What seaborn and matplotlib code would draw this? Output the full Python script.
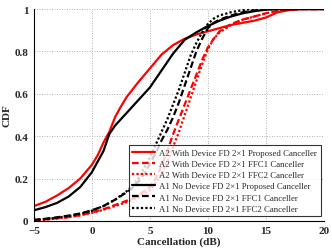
import matplotlib
matplotlib.use("Agg")
import matplotlib.pyplot as plt
import numpy as np
import pandas as pd
import seaborn as sns

# data (Cancellation in dB -> CDF)
x_a2_prop = [-5, -4, -3, -2, -1, 0, 0.5, 1, 1.5, 2, 2.5, 3, 3.5, 4, 5, 6, 7, 8, 9, 10, 11, 12, 13, 14, 15, 16, 17, 18, 20]
y_a2_prop = [0.07, 0.09, 0.12, 0.155, 0.2, 0.265, 0.31, 0.37, 0.42, 0.49, 0.54, 0.585, 0.62, 0.655, 0.72, 0.785, 0.83, 0.86,
             0.88, 0.895, 0.91, 0.925, 0.935, 0.945, 0.96, 0.985, 0.995, 1.0, 1.0]

x_a2_ffc1 = [-5, -4, -3, -2, -1, 0, 1, 2, 3, 3.5, 4, 5, 5.5, 6, 6.5, 7, 7.5, 8, 8.5, 9, 9.5, 10, 10.5, 11, 12, 13, 14, 15, 16, 17, 18, 20]
y_a2_ffc1 = [0.003, 0.007, 0.012, 0.018, 0.027, 0.04, 0.055, 0.075, 0.095, 0.105, 0.12, 0.16, 0.2, 0.26, 0.33, 0.41, 0.48,
             0.55, 0.62, 0.69, 0.76, 0.82, 0.86, 0.895, 0.93, 0.95, 0.965, 0.98, 0.99, 0.997, 1.0, 1.0]

x_a2_ffc2 = [-5, -4, -3, -2, -1, 0, 1, 2, 3, 4, 5, 5.5, 6, 6.5, 7, 7.5, 8, 8.5, 9, 9.5, 10, 10.5, 11, 12, 13, 14, 15, 16, 17, 18, 20]
y_a2_ffc2 = [0.003, 0.006, 0.011, 0.017, 0.026, 0.038, 0.052, 0.07, 0.088, 0.11, 0.145, 0.18, 0.22, 0.28, 0.35, 0.42, 0.5,
             0.58, 0.66, 0.74, 0.81, 0.86, 0.89, 0.925, 0.95, 0.965, 0.98, 0.99, 0.997, 1.0, 1.0]

x_a1_prop = [-5, -4, -3, -2, -1, 0, 0.5, 1, 1.5, 2, 2.5, 3, 3.5, 4, 5, 6, 7, 8, 9, 10, 11, 12, 13, 14, 15, 16, 20]
y_a1_prop = [0.05, 0.065, 0.085, 0.115, 0.16, 0.23, 0.28, 0.33, 0.41, 0.45, 0.48, 0.51, 0.54, 0.57, 0.63, 0.71, 0.79, 0.855,
             0.89, 0.92, 0.945, 0.965, 0.98, 0.99, 0.997, 1.0, 1.0]

x_a1_ffc1 = [-5, -4, -3, -2, -1, 0, 1, 2, 3, 3.5, 4, 4.5, 5, 5.5, 6, 6.5, 7, 7.5, 8, 8.5, 9, 9.5, 10, 10.5, 11, 12, 13, 14, 15, 16, 20]
y_a1_ffc1 = [0.005, 0.01, 0.017, 0.025, 0.035, 0.05, 0.07, 0.1, 0.135, 0.155, 0.185, 0.22, 0.27, 0.32, 0.38, 0.43, 0.49,
             0.56, 0.64, 0.72, 0.8, 0.86, 0.91, 0.935, 0.95, 0.97, 0.985, 0.993, 0.998, 1.0, 1.0]

x_a1_ffc2 = [-5, -4, -3, -2, -1, 0, 1, 2, 3, 3.5, 4, 4.5, 5, 5.5, 6, 6.5, 7, 7.5, 8, 8.5, 9, 9.5, 10, 10.5, 11, 12, 13, 14, 20]
y_a1_ffc2 = [0.004, 0.009, 0.015, 0.023, 0.033, 0.048, 0.07, 0.1, 0.14, 0.165, 0.2, 0.25, 0.3, 0.36, 0.42, 0.48, 0.55,
             0.62, 0.7, 0.78, 0.84, 0.89, 0.93, 0.955, 0.97, 0.985, 0.995, 1.0, 1.0]

labels = ["A2 With Device FD 2\u00d71 Proposed Canceller",
          "A2 With Device FD 2\u00d71 FFC1 Canceller",
          "A2 With Device FD 2\u00d71 FFC2 Canceller",
          "A1 No Device FD 2\u00d71 Proposed Canceller",
          "A1 No Device FD 2\u00d71 FFC1 Canceller",
          "A1 No Device FD 2\u00d71 FFC2 Canceller"]

series = [(x_a2_prop, y_a2_prop, "red", "-"),
          (x_a2_ffc1, y_a2_ffc1, "red", (0, (3, 1.5))),
          (x_a2_ffc2, y_a2_ffc2, "red", (0, (1, 1))),
          (x_a1_prop, y_a1_prop, "black", "-"),
          (x_a1_ffc1, y_a1_ffc1, "black", (0, (3, 1.5))),
          (x_a1_ffc2, y_a1_ffc2, "black", (0, (1, 1)))]

sns.set_style("white")
plt.rcParams['font.family'] = ['Liberation Serif', 'DejaVu Serif']

fig = plt.figure(figsize=(3.32, 2.51), dpi=100)
ax = fig.add_axes([0.102, 0.116, 0.874, 0.844])

for (xs, ys, col, ls), lab in zip(series, labels):
    sns.lineplot(x=xs, y=ys, ax=ax, color=col, linestyle=ls, linewidth=1.6, label=lab)

ax.set_xlim(-5, 20)
ax.set_ylim(0, 1)
ax.set_xticks([-5, 0, 5, 10, 15, 20])
ax.set_yticks([0, 0.2, 0.4, 0.6, 0.8, 1])
ax.set_yticklabels(["0", "0.2", "0.4", "0.6", "0.8", "1"])
ax.grid(True, linestyle=(0, (1, 2)), color="#999999", linewidth=0.6)
for s in ["top", "right"]:
    ax.spines[s].set_visible(False)
for s in ["left", "bottom"]:
    ax.spines[s].set_color("black")
    ax.spines[s].set_linewidth(0.8)
ax.tick_params(direction="out", length=3, width=0.8, labelsize=8, pad=1)
for t in ax.get_xticklabels() + ax.get_yticklabels():
    t.set_fontweight("bold")

ax.set_xlabel("Cancellation (dB)", fontsize=8, fontweight="bold", labelpad=1)
ax.set_ylabel("CDF", fontsize=8, fontweight="bold", labelpad=2)

leg = ax.legend(loc="lower right", bbox_to_anchor=(0.988, 0.022), fontsize=6.3, frameon=True,
                fancybox=False, edgecolor="black", handlelength=2.6, borderaxespad=0,
                labelspacing=0.35, borderpad=0.4, handletextpad=0.5)
leg.get_frame().set_linewidth(0.8)

fig.savefig("out.png", dpi=100)
